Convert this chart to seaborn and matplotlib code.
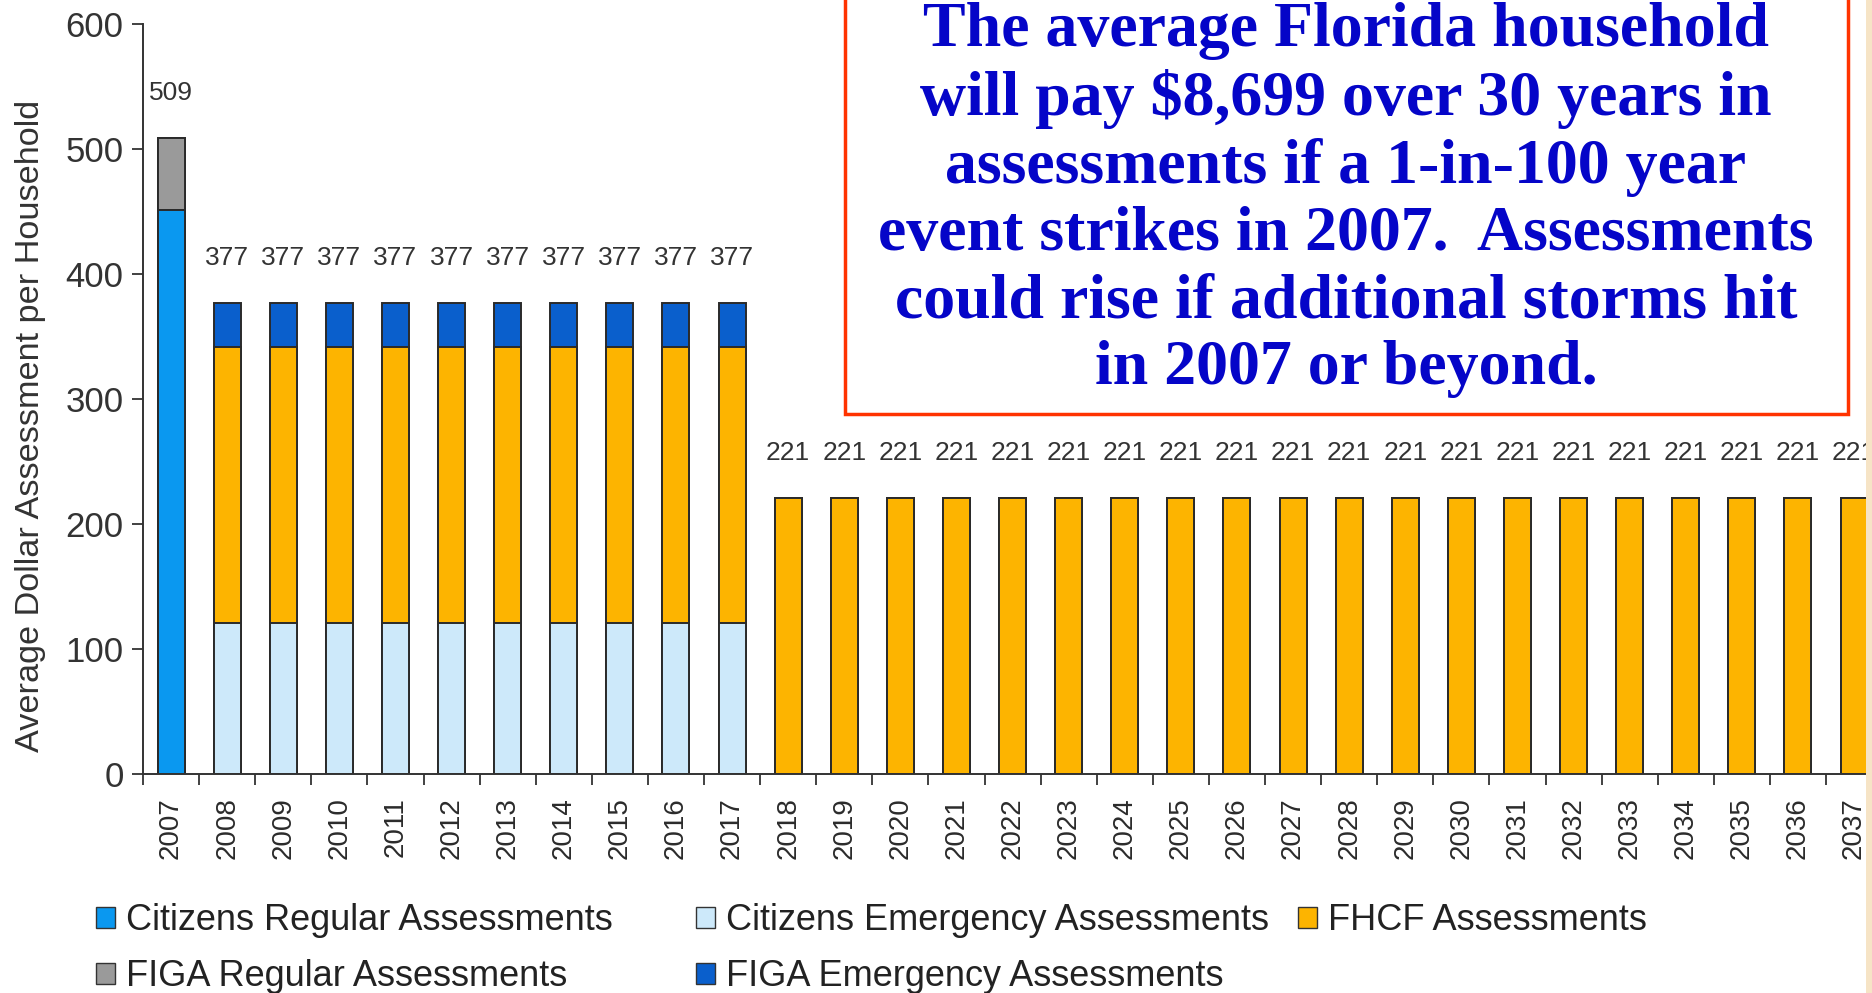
import matplotlib
matplotlib.use("Agg")
import matplotlib.pyplot as plt
import seaborn as sns
import numpy as np
from matplotlib.patches import Patch, Rectangle

# ---------------- data ----------------
years = ["2007", "2008", "2009", "2010", "2011", "2012", "2013", "2014", "2015", "2016",
         "2017", "2018", "2019", "2020", "2021", "2022", "2023", "2024", "2025", "2026",
         "2027", "2028", "2029", "2030", "2031", "2032", "2033", "2034", "2035", "2036", "2037"]

citizens_regular = [451, 0, 0, 0, 0, 0, 0, 0, 0, 0,
                    0, 0, 0, 0, 0, 0, 0, 0, 0, 0,
                    0, 0, 0, 0, 0, 0, 0, 0, 0, 0, 0]
citizens_emergency = [0, 121, 121, 121, 121, 121, 121, 121, 121, 121,
                      121, 0, 0, 0, 0, 0, 0, 0, 0, 0,
                      0, 0, 0, 0, 0, 0, 0, 0, 0, 0, 0]
fhcf = [0, 221, 221, 221, 221, 221, 221, 221, 221, 221,
        221, 221, 221, 221, 221, 221, 221, 221, 221, 221,
        221, 221, 221, 221, 221, 221, 221, 221, 221, 221, 221]
figa_regular = [58, 0, 0, 0, 0, 0, 0, 0, 0, 0,
                0, 0, 0, 0, 0, 0, 0, 0, 0, 0,
                0, 0, 0, 0, 0, 0, 0, 0, 0, 0, 0]
figa_emergency = [0, 35, 35, 35, 35, 35, 35, 35, 35, 35,
                  35, 0, 0, 0, 0, 0, 0, 0, 0, 0,
                  0, 0, 0, 0, 0, 0, 0, 0, 0, 0, 0]

series_names = ["Citizens Regular Assessments", "Citizens Emergency Assessments",
                "FHCF Assessments", "FIGA Regular Assessments", "FIGA Emergency Assessments"]
series_values = [citizens_regular, citizens_emergency, fhcf, figa_regular, figa_emergency]
series_colors = ["#0A98F0", "#CDE9FA", "#FDB400", "#9A9A9A", "#0A5FCC"]

y_ticks = [0, 100, 200, 300, 400, 500, 600]
y_label = "Average Dollar Assessment per Household"
note_text = ("The average Florida household\n"
             "will pay $8,699 over 30 years in\n"
             "assessments if a 1-in-100 year\n"
             "event strikes in 2007.  Assessments\n"
             "could rise if additional storms hit\n"
             "in 2007 or beyond.")

# ---------------- figure ----------------
sns.set_theme(style="white")
plt.rcParams["font.family"] = ["Liberation Sans", "DejaVu Sans"]

W, H = 1872, 993
fig = plt.figure(figsize=(W / 100, H / 100), dpi=100)
fig.patch.set_facecolor("white")

ax_left, ax_right = 143, 143 + 31 * 56.1
ax_top, ax_bottom = 24, 774
ax = fig.add_axes([ax_left / W, 1 - ax_bottom / H, (ax_right - ax_left) / W, (ax_bottom - ax_top) / H])
ax.set_facecolor("white")

vals = np.array(series_values, dtype=float)
cum = np.cumsum(vals, axis=0)
totals = cum[-1]

edge = "#2a2a2a"
# draw cumulative bars from top layer down so lower layers overlay
for k in range(len(series_names) - 1, -1, -1):
    sns.barplot(x=years, y=cum[k], color=series_colors[k], saturation=1,
                width=0.48, edgecolor=edge, linewidth=1.4, ax=ax)

for i, t in enumerate(totals):
    ax.text(i, t + 36, f"{int(t)}", ha="center", va="center", fontsize=19,
            color="#333333", clip_on=False)

ax.set_xlim(-0.5, len(years) - 0.5)
ax.set_ylim(0, 600)
ax.set_yticks(y_ticks)
ax.set_yticklabels([str(v) for v in y_ticks], fontsize=25, color="#333333")
ax.set_xticks(range(len(years)))
ax.set_xticklabels(years, rotation=90, fontsize=20, color="#2b2b2b")
ax.set_xticks(np.arange(-0.5, len(years), 1), minor=True)
ax.tick_params(axis="x", which="major", length=0, pad=17)
ax.tick_params(axis="x", which="minor", length=8, width=1.3, color="#333333", direction="out", bottom=True)
ax.tick_params(axis="y", which="major", length=8, width=1.3, color="#333333", direction="out", pad=6, left=True)
ax.set_xlabel("")
ax.set_ylabel(y_label, fontsize=24.7, color="#333333")
ax.yaxis.set_label_coords(-0.056, 0.464)
for s in ["top", "right"]:
    ax.spines[s].set_visible(False)
for s in ["left", "bottom"]:
    ax.spines[s].set_color("#333333")
    ax.spines[s].set_linewidth(1.4)
ax.grid(False)

# ---------------- legend (three columns) ----------------
handles = [Patch(facecolor=c, edgecolor="#333333", linewidth=1.0) for c in series_colors]
columns = [([0, 3], 96), ([1, 4], 696), ([2], 1298)]
for idx, xpx in columns:
    leg = fig.legend([handles[j] for j in idx], [series_names[j] for j in idx],
                     loc="upper left", bbox_to_anchor=(xpx / W, 1 - 903 / H),
                     bbox_transform=fig.transFigure, frameon=False, fontsize=26,
                     handlelength=0.52, handleheight=0.52, handletextpad=0.3,
                     labelspacing=0.58, borderpad=0, borderaxespad=0)
    for txt in leg.get_texts():
        txt.set_color("#222222")

# ---------------- note box ----------------
fig.add_artist(Rectangle((845 / W, 1 - 414 / H), (1848 - 845) / W, 0.6,
                         transform=fig.transFigure, facecolor="white",
                         edgecolor="#FF3300", linewidth=2.5, zorder=9))
fig.text(1346 / W, 1 - 200 / H, note_text, ha="center", va="center",
         fontsize=46, fontweight="bold", family=["Liberation Serif", "DejaVu Serif"],
         color="#0505C8", linespacing=1.2, zorder=10)

# slide edge at right
fig.add_artist(Rectangle((1866 / W, 0), 1, 1, transform=fig.transFigure,
                         facecolor="#F6E4C6", edgecolor="none", zorder=20))

fig.savefig("out.png", dpi=100)
